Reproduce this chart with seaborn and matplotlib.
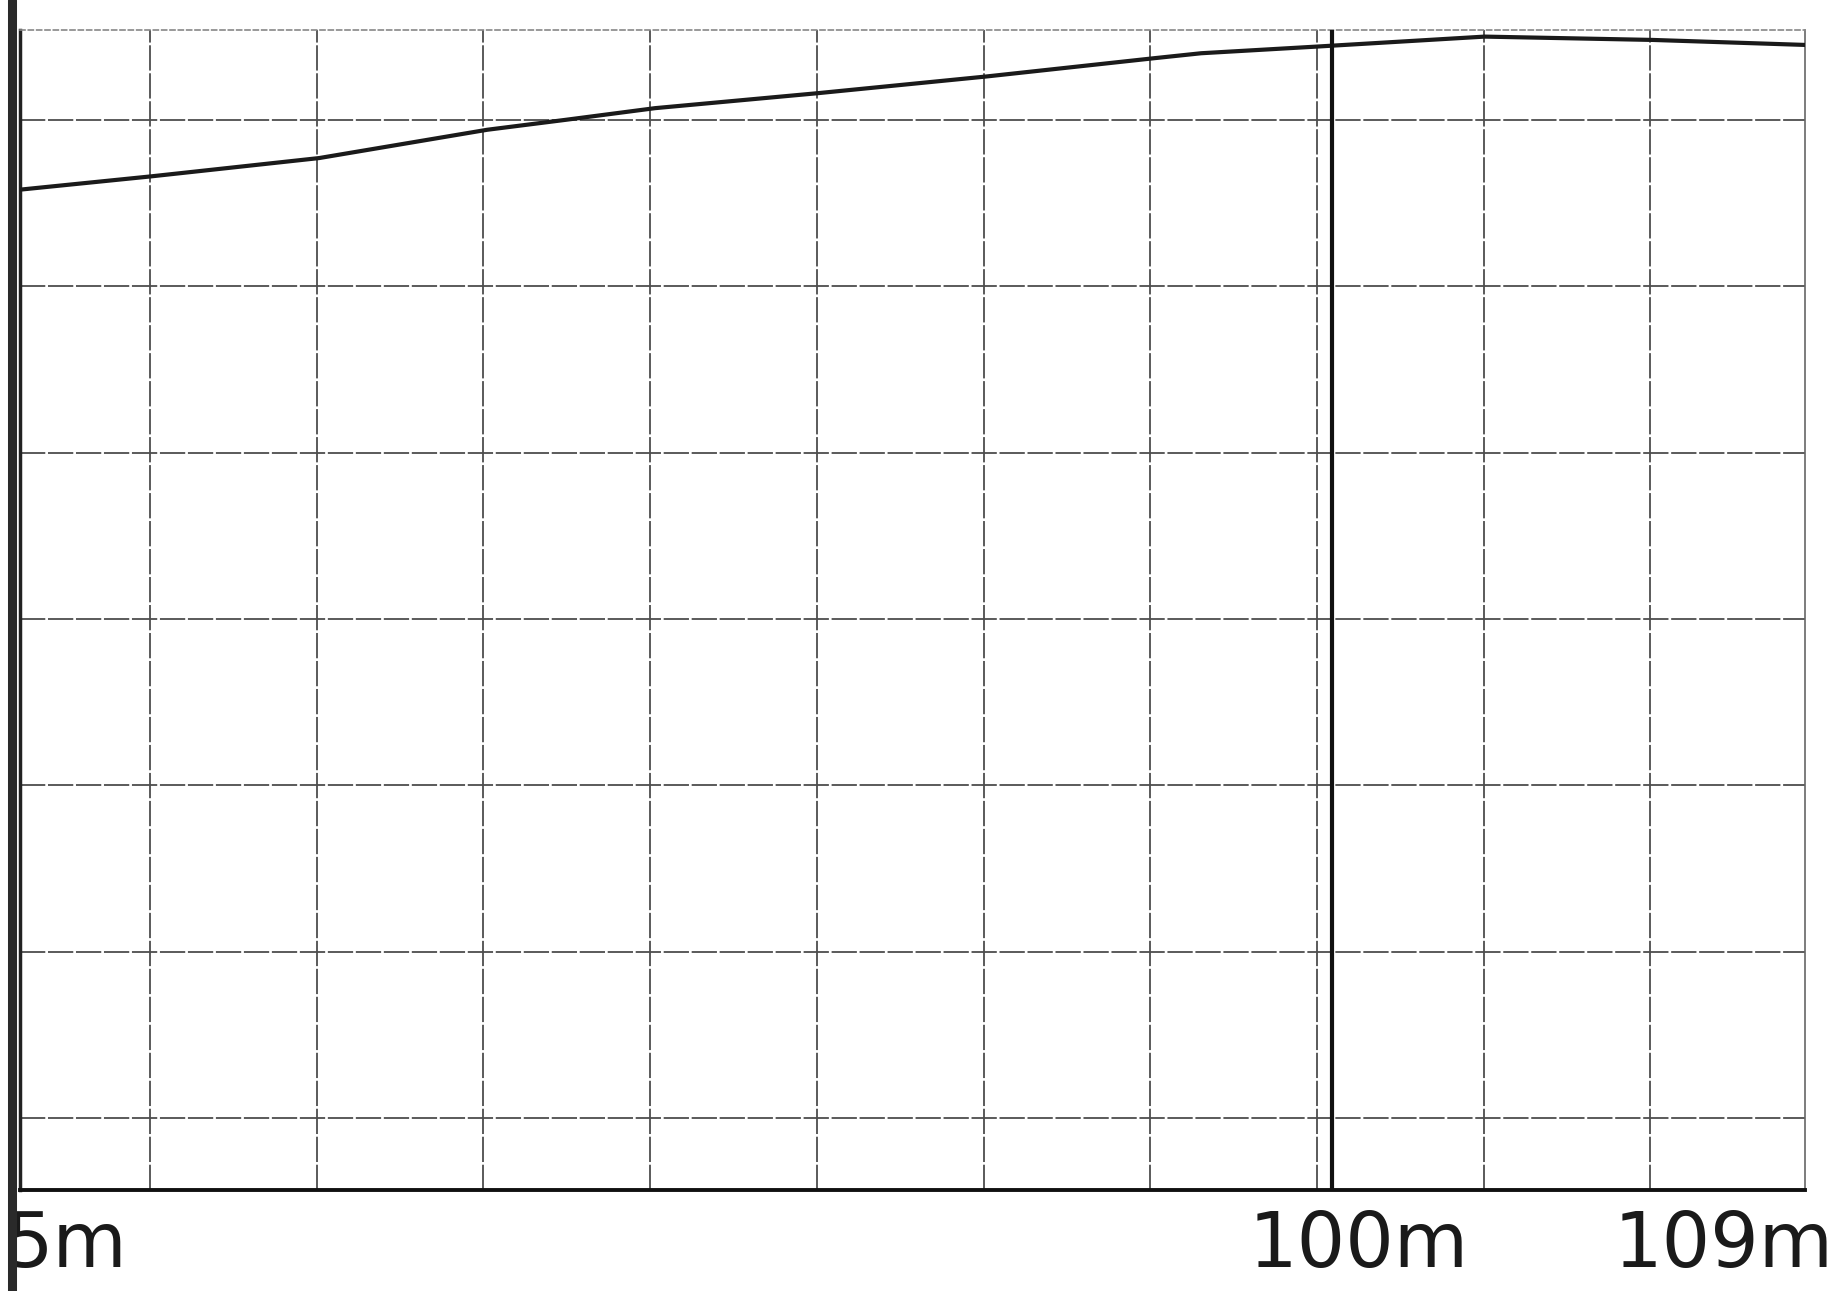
"""
Scanned trace plot: distance profile with cursor at 100m.
"""

import numpy as np
import pandas as pd
import matplotlib
matplotlib.use("Agg")
import matplotlib.pyplot as plt
import matplotlib.transforms as mtransforms
from matplotlib.lines import Line2D
from matplotlib.ticker import FixedLocator, NullLocator
import seaborn as sns

# trace (distance in m, level in grid divisions)
distance = [75.0, 77.5, 80.7, 83.9, 85.4, 87.1, 90.2, 93.4, 96.6, 97.5, 99.7, 102.9, 106.1, 109.0]
level = [5.58, 5.66, 5.77, 5.94, 6.0, 6.07, 6.16, 6.26, 6.37, 6.40, 6.44, 6.50, 6.48, 6.45]

cursor_pos = 100.0
tick_values = [75, 100, 109]
tick_labels = ["5m", "100m", "109m"]

# screen grid of the instrument (does not line up with the distance scale)
grid_x0, grid_dx = 77.48, 3.175
grid_y = [0, 1, 2, 3, 4, 5, 6]

df = pd.DataFrame({"distance": distance, "level": level})

sns.set_style("white")
plt.rcParams["font.family"] = ["DejaVu Sans"]

fig = plt.figure(figsize=(18.44, 12.91), dpi=100)
ax = fig.add_axes([0.0108, 0.0782, 0.968, 0.8986])

# grid
ax.xaxis.set_minor_locator(FixedLocator(np.arange(grid_x0, 109, grid_dx)))
ax.yaxis.set_minor_locator(FixedLocator(grid_y))
ax.yaxis.set_major_locator(NullLocator())
ax.grid(which="minor", color="#4d4d4d", linewidth=1.3, linestyle=(0, (14, 1.5)))
ax.grid(which="major", visible=False)

sns.lineplot(data=df, x="distance", y="level", ax=ax, color="#1a1a1a",
             linewidth=3.0, zorder=5)

# cursor line
ax.axvline(cursor_pos, color="#111111", linewidth=3.0, zorder=6)

ax.set_xlim(75, 109)
ax.set_ylim(-0.433, 6.54)
ax.set_xlabel("")
ax.set_ylabel("")

ax.set_xticks(tick_values)
ax.set_xticklabels(tick_labels, fontsize=55, color="#1a1a1a")
ax.tick_params(axis="x", which="both", length=0, pad=14)
ax.tick_params(axis="y", which="both", length=0, labelleft=False)

# nudge labels to where the instrument printed them
labels = ax.get_xticklabels()
shifts = [-16, 26, 29]
for lab, dx in zip(labels, shifts):
    off = mtransforms.ScaledTranslation(dx / 100, 0, fig.dpi_scale_trans)
    lab.set_transform(lab.get_transform() + off)
labels[0].set_horizontalalignment("left")
labels[2].set_horizontalalignment("right")

# frame
ax.spines["bottom"].set_color("#111111")
ax.spines["bottom"].set_linewidth(2.8)
ax.spines["left"].set_color("#222222")
ax.spines["left"].set_linewidth(2.5)
ax.spines["top"].set_color("#888888")
ax.spines["top"].set_linewidth(1.2)
ax.spines["top"].set_linestyle((0, (3, 2)))
ax.spines["right"].set_color("#666666")
ax.spines["right"].set_linewidth(1.2)

# dark scan border on the left edge
fig.add_artist(Line2D([0.0065, 0.0065], [0, 1], transform=fig.transFigure,
                      color="#2a2a2a", linewidth=6.5))

fig.savefig("out.png", dpi=100, facecolor="white")
